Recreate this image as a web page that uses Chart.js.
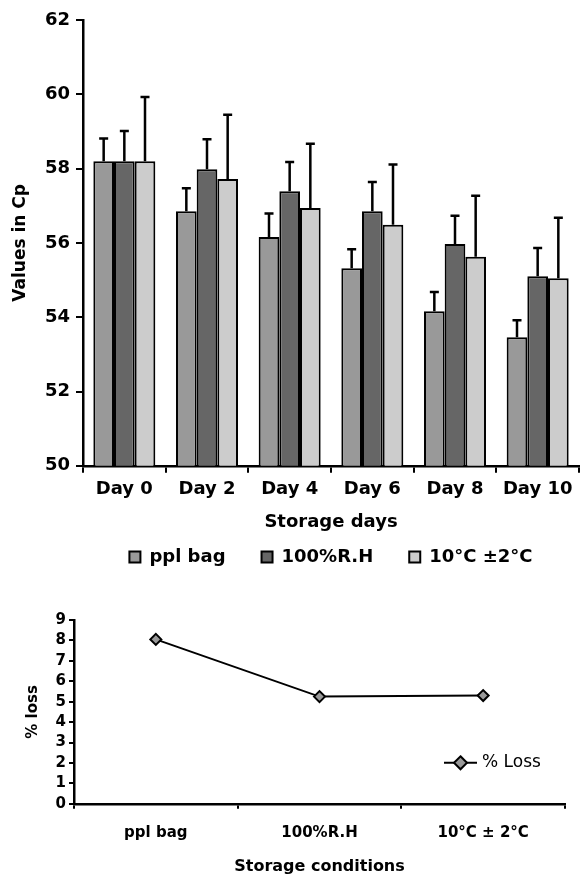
<!DOCTYPE html>
<html>
<head>
<meta charset="utf-8">
<script src="https://cdn.jsdelivr.net/npm/chart.js@4.4.0/dist/chart.umd.min.js"></script>
<style>
    html, body { margin: 0; padding: 0; background: #fff; }
    #wrap { position: relative; width: 580px; height: 880px; }
    #top-box { position: absolute; left: 0; top: 0; width: 580px; height: 576px; }
    #bottom-box { position: absolute; left: 0; top: 590px; width: 580px; height: 290px; }
</style>
</head>
<body>
<div id="wrap">
    <div id="top-box"><canvas id="cp-chart"></canvas></div>
    <div id="bottom-box"><canvas id="loss-chart"></canvas></div>
</div>
<script>
// top chart: values in Cp over storage days
const days = ['Day 0', 'Day 2', 'Day 4', 'Day 6', 'Day 8', 'Day 10'];
const pplBag = [58.2, 56.85, 56.16, 55.32, 54.16, 53.46];
const relHum = [58.2, 57.98, 57.39, 56.85, 55.97, 55.1];
const cold = [58.2, 57.72, 56.94, 56.49, 55.63, 55.05];
const pplBagSd = [0.61, 0.62, 0.63, 0.51, 0.52, 0.46];
const relHumSd = [0.81, 0.81, 0.79, 0.79, 0.76, 0.76];
const coldSd = [1.73, 1.73, 1.73, 1.62, 1.64, 1.63];
const cpTicks = [50, 52, 54, 56, 58, 60, 62];

// bottom chart: % loss per storage condition
const conditions = ['ppl bag', '100%R.H', '10°C ± 2°C'];
const lossPct = [8.05, 5.25, 5.3];
const lossLabel = '% Loss';

const FONT = '"DejaVu Sans", sans-serif';

// draws the upper standard deviation whiskers on each bar
const errorBars = {
    id: 'errorBars',
    afterDatasetsDraw(chart) {
        const ctx = chart.ctx;
        const yScale = chart.scales.y;
        chart.data.datasets.forEach((ds, i) => {
            const meta = chart.getDatasetMeta(i);
            ctx.save();
            ctx.strokeStyle = '#000';
            ctx.lineWidth = 2.5;
            meta.data.forEach((bar, j) => {
                const top = yScale.getPixelForValue(ds.data[j] + ds.sd[j]);
                ctx.beginPath();
                ctx.moveTo(bar.x, bar.y);
                ctx.lineTo(bar.x, top);
                ctx.moveTo(bar.x - 4.5, top);
                ctx.lineTo(bar.x + 4.5, top);
                ctx.stroke();
            });
            ctx.restore();
        });
    }
};

new Chart(document.getElementById('cp-chart'), {
    type: 'bar',
    data: {
        labels: days,
        datasets: [
            { label: 'ppl bag', data: pplBag, sd: pplBagSd, backgroundColor: '#999999' },
            { label: '100%R.H', data: relHum, sd: relHumSd, backgroundColor: '#666666' },
            { label: '10°C ±2°C', data: cold, sd: coldSd, backgroundColor: '#cccccc' }
        ].map(d => Object.assign(d, {
            borderColor: '#000',
            borderWidth: 2,
            borderSkipped: 'bottom',
            barPercentage: 1,
            categoryPercentage: 0.75
        }))
    },
    options: {
        responsive: true,
        maintainAspectRatio: false,
        animation: false,
        layout: { padding: { top: 20, right: 1, left: 0, bottom: 0 } },
        plugins: {
            tooltip: { enabled: false },
            legend: {
                position: 'bottom',
                fullSize: false,
                labels: {
                    color: '#000',
                    font: { family: FONT, size: 18, weight: 'bold' },
                    boxWidth: 11,
                    boxHeight: 11,
                    padding: 36
                }
            }
        },
        scales: {
            x: {
                grid: { offset: true, drawOnChartArea: false, color: '#000', lineWidth: 2, tickLength: 7 },
                border: { color: '#000', width: 2.5 },
                ticks: { color: '#000', font: { family: FONT, size: 18, weight: 'bold' }, padding: 6 },
                title: {
                    display: true, text: 'Storage days', color: '#000',
                    font: { family: FONT, size: 18, weight: 'bold' },
                    padding: { top: 5, bottom: -21 }
                }
            },
            y: {
                min: 50,
                max: 62,
                afterFit: s => { s.width = 83; },
                afterBuildTicks: s => { s.ticks = cpTicks.map(v => ({ value: v })); },
                grid: { drawOnChartArea: false, color: '#000', lineWidth: 2, tickLength: 7 },
                border: { color: '#000', width: 2.5 },
                ticks: { color: '#000', font: { family: FONT, size: 18, weight: 'bold' }, padding: 6 },
                title: {
                    display: true, text: 'Values in Cp', color: '#000',
                    font: { family: FONT, size: 17, weight: 'bold' },
                    padding: { top: 10, bottom: 0 }
                }
            }
        }
    },
    plugins: [errorBars]
});

// small legend entry drawn inside the plot area, lower right
const lossLegend = {
    id: 'lossLegend',
    afterDraw(chart) {
        const { ctx, chartArea } = chart;
        const y = chartArea.bottom - 41;
        const x0 = chartArea.right - 121;
        const x1 = chartArea.right - 88;
        const cx = (x0 + x1) / 2;
        const r = 6.5;
        ctx.save();
        ctx.strokeStyle = '#000';
        ctx.lineWidth = 2;
        ctx.beginPath();
        ctx.moveTo(x0, y);
        ctx.lineTo(x1, y);
        ctx.stroke();
        ctx.beginPath();
        ctx.moveTo(cx, y - r);
        ctx.lineTo(cx + r, y);
        ctx.lineTo(cx, y + r);
        ctx.lineTo(cx - r, y);
        ctx.closePath();
        ctx.fillStyle = '#999999';
        ctx.fill();
        ctx.stroke();
        ctx.fillStyle = '#000';
        ctx.font = '17px ' + FONT;
        ctx.textAlign = 'left';
        ctx.textBaseline = 'middle';
        ctx.fillText(lossLabel, chartArea.right - 83, y);
        ctx.restore();
    }
};

new Chart(document.getElementById('loss-chart'), {
    type: 'line',
    data: {
        labels: conditions,
        datasets: [{
            label: lossLabel,
            data: lossPct,
            borderColor: '#000',
            borderWidth: 2,
            pointStyle: 'rectRot',
            pointRadius: 5.5,
            pointBackgroundColor: '#999999',
            pointBorderColor: '#000',
            pointBorderWidth: 2,
            tension: 0
        }]
    },
    options: {
        responsive: true,
        maintainAspectRatio: false,
        animation: false,
        layout: { padding: { top: 30, right: 15, left: 0, bottom: 4 } },
        plugins: {
            tooltip: { enabled: false },
            legend: { display: false }
        },
        scales: {
            x: {
                offset: true,
                grid: { offset: true, drawOnChartArea: false, color: '#000', lineWidth: 2, tickLength: 5 },
                border: { color: '#000', width: 2.5 },
                ticks: { color: '#000', font: { family: FONT, size: 15, weight: 'bold' }, padding: 15 },
                title: {
                    display: true, text: 'Storage conditions', color: '#000',
                    font: { family: FONT, size: 16, weight: 'bold' },
                    padding: { top: 0, bottom: 0 }
                }
            },
            y: {
                min: 0,
                max: 9,
                afterFit: s => { s.width = 74; },
                grid: { drawOnChartArea: false, color: '#000', lineWidth: 2, tickLength: 5 },
                border: { color: '#000', width: 2.5 },
                ticks: {
                    stepSize: 1, autoSkip: false, color: '#000',
                    font: { family: FONT, size: 15, weight: 'bold' }, padding: 3
                },
                title: {
                    display: true, text: '% loss', color: '#000',
                    font: { family: FONT, size: 15, weight: 'bold' },
                    padding: { top: 24, bottom: 0 }
                }
            }
        }
    },
    plugins: [lossLegend]
});
</script>
</body>
</html>
